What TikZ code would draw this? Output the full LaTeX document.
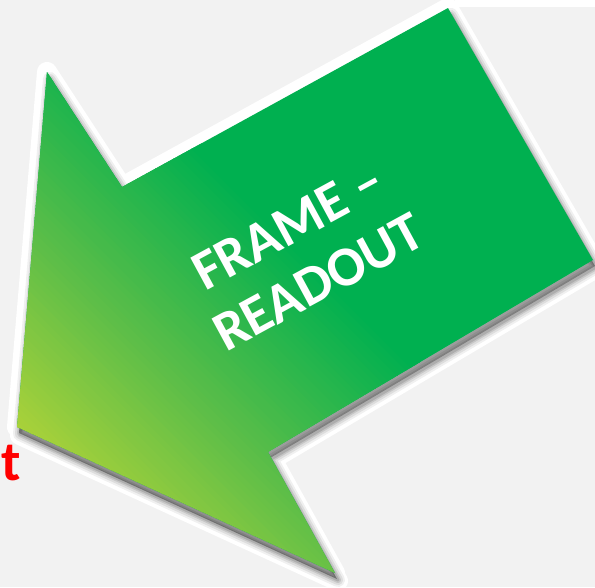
\documentclass[tikz,border=0pt]{standalone}
\usepackage{fontspec}
\setmainfont{Carlito}
\definecolor{bgc}{HTML}{F2F2F2}
\definecolor{cA}{HTML}{A8D13A}
\definecolor{cB}{HTML}{5EBE48}
\definecolor{cC}{HTML}{00B050}
\definecolor{redt}{HTML}{FF0000}
\tikzset{
  arrowtext/.style={text=white, font=\bfseries\fontsize{56}{64}\selectfont, inner sep=0pt, rotate=28.5, anchor=base west, align=center},
  redlabel/.style={text=redt, font=\bfseries\fontsize{56}{60}\selectfont, inner sep=0pt, anchor=base east}
}
\begin{document}
\begin{tikzpicture}[x=1pt,y=-1pt]
\useasboundingbox (0,0) rectangle (595,587);
\fill[bgc] (0,0) rectangle (595,587);
\fill[white] (455,0) rectangle (595,7);
\coordinate (A) at (17,427);
\coordinate (B) at (47,72);
\coordinate (C) at (122,187);
\coordinate (D) at (448,8);
\coordinate (E) at (593,260);
\coordinate (F) at (268,452);
\coordinate (G) at (335,573);
% white border (also under the shadow)
\draw[white, line width=20pt, line join=round] (A)--(B)--(C)--(D)--(E)--(F)--(G)--cycle;
\draw[white, line width=20pt, line join=round, transform canvas={shift={(3,8)}}] (A)--(B)--(C)--(D)--(E)--(F)--(G)--cycle;
% soft shadow
\foreach \w/\o in {14/0.06,10/0.08,6/0.1,3/0.12}{
  \draw[black, opacity=\o, line width=\w pt, line join=round, transform canvas={shift={(3,7)}}]
    (A)--(B)--(C)--(D)--(E)--(F)--(G)--cycle;
}
\fill[black, opacity=0.35, transform canvas={shift={(2,6)}}] (A)--(B)--(C)--(D)--(E)--(F)--(G)--cycle;
% arrow body with gradient
\begin{scope}
\clip (A)--(B)--(C)--(D)--(E)--(F)--(G)--cycle;
\fill[cC] (0,0) rectangle (595,587);
\foreach \t in {-310,-305,...,-155}{
  \pgfmathtruncatemacro\p{max(0,min(100,(\t+290)/140*100))}
  \fill[cB!\p!cA] ({(\t-800)*0.7071},{(-800-\t)*0.7071}) -- ({(\t+800)*0.7071},{(800-\t)*0.7071})
     -- ({(\t+806)*0.7071},{(794-\t)*0.7071}) -- ({(\t-794)*0.7071},{(-806-\t)*0.7071}) -- cycle;
}
\foreach \t in {-150,-145,...,35}{
  \pgfmathtruncatemacro\p{max(0,min(100,(\t+150)/180*100))}
  \fill[cC!\p!cB] ({(\t-800)*0.7071},{(-800-\t)*0.7071}) -- ({(\t+800)*0.7071},{(800-\t)*0.7071})
     -- ({(\t+806)*0.7071},{(794-\t)*0.7071}) -- ({(\t-794)*0.7071},{(-806-\t)*0.7071}) -- cycle;
}
\end{scope}
% text (anchor = start of the baseline of the last line)
\node[arrowtext] (lbl) at (226,353) {FRAME –\\READOUT};
\node[redlabel] (rt) at (21,480) {t};
\end{tikzpicture}
\end{document}
